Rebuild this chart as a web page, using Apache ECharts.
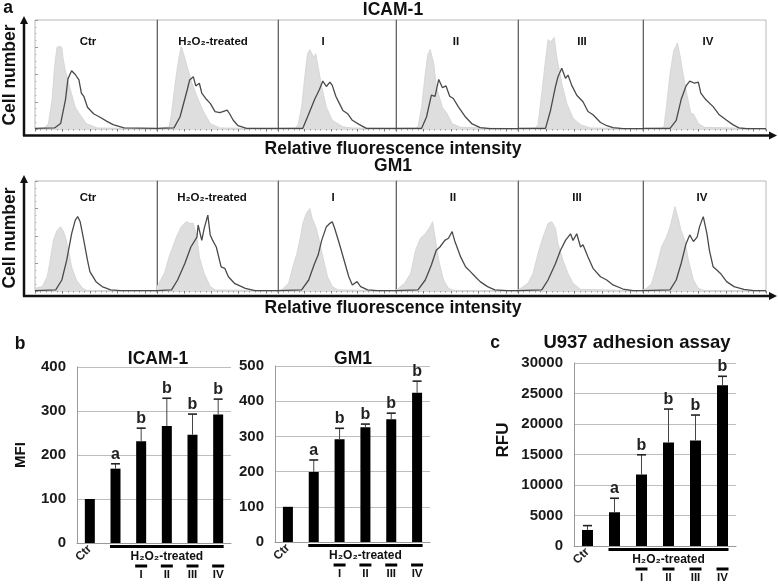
<!DOCTYPE html>
<html><head><meta charset="utf-8">
<script src="https://cdn.jsdelivr.net/npm/echarts@6/dist/echarts.min.js"></script>
<style>html,body{margin:0;padding:0;background:#fff}#c{width:778px;height:584px}</style>
</head><body><div id="c"></div><script>
// ---------------- DATA ----------------
const histLabels = ['Ctr', 'H\u2082O\u2082-treated', 'I', 'II', 'III', 'IV'];
// flow histograms: [relative fluorescence position (% of panel), cell number (% of panel height)]
const icamCtrl = [
  [[0,0.5],[8,1],[11,5],[14,27],[16,57],[18,75],[20,76],[22,75],[23,65],[25,53],[29,36],[33,20],[37,13],[42,5],[51,1],[100,0.3]],
  [[0,0.5],[10,2],[12,14],[15,42],[18,65],[20,75.5],[22,69],[25,57],[29,42],[33,30],[38,17],[44,5],[52,1],[100,0.3]],
  [[0,0.5],[15,1],[17,4],[20,20],[23,51],[25,69],[27,73],[30,66],[32,69],[34,57],[37,39],[41,20],[46,8],[55,2],[63,1],[100,0.3]],
  [[0,0.5],[16,1],[18,2],[21,20],[24,51],[26,68],[28,73],[31,60],[33,39],[38,20],[42,14],[46,5],[53,1.5],[100,0.3]],
  [[0,0.5],[14,1],[16,4],[19,33],[22,63],[24,82],[26,80],[29,84],[31,66],[35,42],[39,23.5],[44,10],[50,4],[58,1],[100,0.3]],
  [[0,0.5],[15,1],[17,2],[19,20],[22,51],[25,72],[28,79],[30,68],[33,48],[36,30],[39,14],[41,14],[45,5],[50,1.5],[100,0.3]]
];
const icamSample = [
  [[0,0.6],[16,1],[21,5],[25,27],[27,46],[30,53.5],[33,50],[36,45],[38,33],[40,30],[43,20],[48,14],[53,11],[59,7],[64,4],[73,1],[100,0.5]],
  [[0,0.6],[14,1],[19,11],[25,36],[27,45],[30,48],[32,39.5],[35,42],[37,33],[41,27],[44,23.5],[48,16],[52,15],[58,17.4],[60,14],[63,8],[67,3],[74,0.6],[100,0.5]],
  [[0,0.6],[21,0.6],[25,11],[31,27],[35,36],[38,44],[41,39],[44,43],[46,40],[49,30],[52,23.5],[55,17],[59,14],[63,8],[69,4],[75,0.6],[100,0.5]],
  [[0,0.6],[21,0.6],[25,11],[29,31],[32,30],[35,45.5],[38,38],[41,39.5],[44,30],[47,28],[51,20.5],[57,11],[62,5],[69,1.2],[77,0.3],[100,0.3]],
  [[0,0.6],[22,0.6],[26,17],[30,39],[32,48],[35,55.7],[38,46.5],[40,49.5],[43,40],[47,31],[52,25],[56,16],[60,13],[66,6],[71,3],[76,1.2],[84,0.3],[100,0.3]],
  [[0,0.6],[22,0.6],[27,8],[31,27],[35,39.5],[38,44],[42,42],[45,43],[47,33],[51,27],[57,20.5],[62,13],[68,8],[73,4],[78,1],[84,0.3],[100,0.3]]
];
const gm1Ctrl = [
  [[0,2.4],[6,4],[10,13],[12,25],[15,46],[18,55],[21,58.5],[23,55],[25,49],[28,34],[30,22],[34,10],[39,2.4],[43,0.3],[100,0.3]],
  [[0,4],[6,16],[10,31],[13,40],[16,49],[20,58.5],[24,63],[27,61.5],[30,61.5],[33,49],[35,31],[39,16],[44,4],[48,1],[100,0.3]],
  [[0,0.5],[3,1],[9,7],[13,23.6],[16,34],[19,49],[21,61.5],[24,70.6],[27,75],[29,66],[32,58.5],[35,46],[38,31],[42,13],[46,4],[51,1],[100,0.3]],
  [[0,1],[2,2.4],[7,7],[12,16],[16,37],[20,48],[24,52],[28,58.5],[30,63],[32,49],[35,28],[39,10],[43,2.4],[48,0.3],[100,0.3]],
  [[0,1],[2,2.4],[8,7],[12,16],[16,34],[20,49],[24,61.5],[27,63],[30,57],[32,43],[36,28],[40,16],[44,7],[50,1.5],[100,0.3]],
  [[0,1],[3,2.4],[7,7],[11,22],[15,40],[19,49],[22,58.5],[26,76.7],[29,64.5],[31,55],[34,46],[37,28],[41,10],[45,2.4],[50,0.3],[100,0.3]]
];
const gm1Sample = [
  [[0,0.3],[17,1],[22,10],[26,28],[30,52],[33,64.5],[35,67.6],[37,63],[40,46],[43,28],[45,17.6],[50,8.5],[55,4],[62,1],[70,0.3],[100,0.3]],
  [[0,0.3],[12,1],[17,10],[23,25],[28,40],[33,49],[34,60],[37,46],[39,57],[42,69],[44,51],[46,46],[49,40],[53,22],[56,20.6],[59,13],[64,7],[73,2.4],[81,0.3],[100,0.3]],
  [[0,0.3],[20,1],[26,10],[31,25],[34,32.7],[37,46],[41,58.5],[44,61.5],[46,63],[48,57],[52,43],[56,28],[60,13],[63,5.5],[67,8.5],[70,4],[76,1],[84,0.3],[100,0.3]],
  [[0,0.3],[18,1],[24,10],[29,23.6],[33,37],[36,40],[40,46],[43,48],[46,54],[48,46],[53,31],[57,22],[61,17.6],[65,13],[69,8.5],[75,4],[81,1],[91,0.3],[100,0.3]],
  [[0,0.3],[19,1],[24,10],[30,25],[34,37],[38,46],[42,52],[44,46],[47,52],[50,40],[52,42],[56,31],[60,20.6],[66,13],[71,10],[76,5.5],[84,1.8],[92,0.3],[100,0.3]],
  [[0,0.3],[22,1],[27,10],[31,25],[35,43],[38,51],[41,45],[44,49],[46,58.5],[49,67.6],[52,52],[54,37],[57,22],[60,19],[63,16],[68,8.5],[74,4],[82,1.5],[90,0.3],[100,0.3]]
];

const barCats = ['Ctr', 'H2O2', 'I', 'II', 'III', 'IV'];
const icamMFI = [100, 169, 231, 266, 246, 292];
const icamErr = [0, 11, 30, 63, 47, 35];
const icamSig = ['', 'a', 'b', 'b', 'b', 'b'];
const gm1MFI = [100, 199, 292, 326, 349, 424];
const gm1Err = [0, 34, 31, 9, 17, 33];
const gm1Sig = ['', 'a', 'b', 'b', 'b', 'b'];
const rfuVals = [2630, 5530, 11720, 16980, 17300, 26340];
const rfuErr = [710, 2300, 3230, 5470, 4170, 1480];
const rfuSig = ['', 'a', 'b', 'b', 'b', 'b'];
const treatedLabel = 'H\u2082O\u2082-treated';

// ---------------- LAYOUT ----------------
const F = '"Liberation Sans","DejaVu Sans",Arial,sans-serif';
const font = (sz) => 'bold ' + sz + 'px ' + F;
const panelX = [[35,157],[157,278],[278,396],[396,518],[518,643],[643,766]];
const rows = [
  {ctrl: icamCtrl, samp: icamSample, top: 20, h: 109},
  {ctrl: gm1Ctrl, samp: gm1Sample, top: 181, h: 110}
];

const grid = [], xAxis = [], yAxis = [], series = [];
rows.forEach((row) => {
  panelX.forEach((px, p) => {
    const g = grid.length;
    grid.push({left: px[0], top: row.top, width: px[1]-px[0], height: row.h, show: true,
      borderColor: '#b8b8b8', borderWidth: 1, containLabel: false, outerBoundsMode: 'none'});
    xAxis.push({gridIndex: g, type: 'value', min: 0, max: 100, interval: 22.5,
      axisLine: {show: false}, axisLabel: {show: false}, splitLine: {show: false},
      axisTick: {show: true, length: 2.5, lineStyle: {color: '#777', width: 1}},
      minorTick: {show: true, splitNumber: 5, length: 1.5, lineStyle: {color: '#999'}}});
    yAxis.push({gridIndex: g, type: 'value', min: 0, max: 100, interval: 25,
      axisLabel: {show: false}, splitLine: {show: false},
      axisLine: {show: p > 0, lineStyle: {color: '#666', width: 1}},
      axisTick: {show: p === 0, inside: true, length: 3, lineStyle: {color: '#999'}},
      minorTick: {show: p === 0, splitNumber: 4, length: 1.5, lineStyle: {color: '#bbb'}}});
    series.push({type: 'line', xAxisIndex: g, yAxisIndex: g, data: row.ctrl[p], symbol: 'none',
      lineStyle: {color: '#d2d2d2', width: 0.8}, areaStyle: {color: '#dedede', opacity: 1}, silent: true, z: 2});
    series.push({type: 'line', xAxisIndex: g, yAxisIndex: g, data: row.samp[p], symbol: 'none',
      lineStyle: {color: '#4a4a4a', width: 1.3}, silent: true, z: 3});
  });
});

const barCharts = [
  {vals: icamMFI, errs: icamErr, sig: icamSig, left: 77, top: 367, w: 154, h: 176, max: 400, interval: 100, bw: 10},
  {vals: gm1MFI, errs: gm1Err, sig: gm1Sig, left: 275, top: 366, w: 155, h: 176, max: 500, interval: 100, bw: 10},
  {vals: rfuVals, errs: rfuErr, sig: rfuSig, left: 574, top: 363, w: 162, h: 183, max: 30000, interval: 5000, bw: 11}
];
barCharts.forEach((bc) => {
  const g = grid.length;
  grid.push({left: bc.left, top: bc.top, width: bc.w, height: bc.h, containLabel: false, outerBoundsMode: 'none'});
  xAxis.push({gridIndex: g, type: 'category', data: barCats,
    axisLine: {lineStyle: {color: '#999', width: 1}}, axisTick: {show: false},
    axisLabel: {interval: 0, rotate: 45, margin: 4, color: '#222', fontFamily: F, fontWeight: 'bold', fontSize: 12,
      formatter: (v) => (v === 'Ctr' ? v : '')}});
  yAxis.push({gridIndex: g, type: 'value', min: 0, max: bc.max, interval: bc.interval,
    axisLine: {show: true, lineStyle: {color: '#999', width: 1}}, axisTick: {show: false},
    axisLabel: {margin: 11, color: '#1a1a1a', fontFamily: F, fontWeight: 'bold', fontSize: 15,
      formatter: (v) => String(v)},
    splitLine: {lineStyle: {color: '#bdbdbd', width: 1}}});
  series.push({type: 'bar', xAxisIndex: g, yAxisIndex: g, data: bc.vals, barWidth: bc.bw,
    itemStyle: {color: '#000'}, silent: true, z: 2});
  const sig = bc.sig;
  series.push({type: 'custom', xAxisIndex: g, yAxisIndex: g, silent: true, z: 3,
    data: bc.vals.map((v, i) => [i, v, bc.errs[i]]),
    renderItem: (params, api) => {
      const i = api.value(0), v = api.value(1), e = api.value(2);
      const p0 = api.coord([i, v]), p1 = api.coord([i, v + e]);
      const ch = [];
      if (e > 0) {
        ch.push({type: 'line', shape: {x1: p0[0], y1: p0[1], x2: p1[0], y2: p1[1]}, style: {stroke: '#444', lineWidth: 1}});
        ch.push({type: 'line', shape: {x1: p1[0]-4.5, y1: p1[1], x2: p1[0]+4.5, y2: p1[1]}, style: {stroke: '#222', lineWidth: 1.6}});
      }
      if (sig[params.dataIndex]) {
        ch.push({type: 'text', x: p1[0], y: p1[1] - 1.5, style: {text: sig[params.dataIndex], font: font(16), fill: '#222', textAlign: 'center', textVerticalAlign: 'bottom'}});
      }
      return {type: 'group', children: ch};
    }});
});

const chart = echarts.init(document.getElementById('c'), null, {renderer: 'canvas', width: 778, height: 584});
chart.setOption({animation: false, backgroundColor: '#fff', grid, xAxis, yAxis, series});

// ---------------- ANNOTATIONS ----------------
const G = [];
const txt = (t, x, y, sz, extra) => Object.assign({type: 'text', x, y,
  style: {text: t, font: font(sz), fill: '#111', textAlign: 'center', textVerticalAlign: 'middle'}}, extra || {});
// panel a
G.push(txt('a', 8, 8, 17.5));
G.push(txt('ICAM-1', 393, 10.5, 17.5));
G.push(txt('GM1', 393, 166, 17.5));
G.push(txt('Relative fluorescence intensity', 393, 149, 17.5));
G.push(txt('Relative fluorescence intensity', 393, 308, 17.5));
G.push(txt('Cell number', 10, 75, 17.5, {rotation: Math.PI/2}));
G.push(txt('Cell number', 10, 238, 17.5, {rotation: Math.PI/2}));
const lblPos = [[[88,42],[213,42],[323,42],[456,42],[582,42],[708,42]],
                [[88,198],[212,198],[333,198],[453,198],[577,198],[702,198]]];
lblPos.forEach((row) => row.forEach((pt, p) => G.push(txt(histLabels[p], pt[0], pt[1], 11.5, {z: 10}))));
// arrow axes
[[136, 16, 135.5], [296.5, 175, 296]].forEach(([yb, yt, yh]) => {
  G.push({type: 'line', shape: {x1: 24, y1: yb, x2: 24, y2: yt + 7}, style: {stroke: '#111', lineWidth: 2.5}});
  G.push({type: 'polygon', shape: {points: [[20, yt + 8], [28, yt + 8], [24, yt]]}, style: {fill: '#111'}});
  G.push({type: 'line', shape: {x1: 23, y1: yh, x2: 770, y2: yh}, style: {stroke: '#111', lineWidth: 2.5}});
  G.push({type: 'polygon', shape: {points: [[769, yh - 4], [769, yh + 4], [777, yh]]}, style: {fill: '#111'}});
});
// panels b, c titles
G.push(txt('b', 20, 344, 17.5));
G.push(txt('ICAM-1', 158, 359, 17.5));
G.push(txt('GM1', 353, 359, 17.5));
G.push(txt('MFI', 21, 455, 15, {rotation: Math.PI/2}));
G.push(txt('c', 495, 343, 17.5));
G.push(txt('U937 adhesion assay', 637, 343, 18.5));
G.push(txt('RFU', 503, 440, 17, {rotation: Math.PI/2}));
// treatment annotations under bar charts
barCharts.forEach((bc, k) => {
  const ax = 12 + k;
  const cx = (i) => chart.convertToPixel({xAxisIndex: ax}, i);
  const y0 = chart.convertToPixel({yAxisIndex: ax}, 0);
  const hw = bc.bw / 2;
  const xa = cx(1) - hw - 0.5, xb = cx(5) + hw + 0.5;
  G.push({type: 'rect', shape: {x: xa, y: y0 + 2, width: xb - xa, height: 3}, style: {fill: '#000'}});
  G.push(txt(treatedLabel, (xa + xb) / 2, y0 + 13.5, 12));
  for (let i = 2; i < 6; i++) {
    G.push({type: 'rect', shape: {x: cx(i) - 6, y: y0 + 21.5, width: 12, height: 3}, style: {fill: '#000'}});
    G.push(txt(barCats[i], cx(i), y0 + 32, 11.5));
  }
});
chart.setOption({graphic: G});
</script></body></html>
